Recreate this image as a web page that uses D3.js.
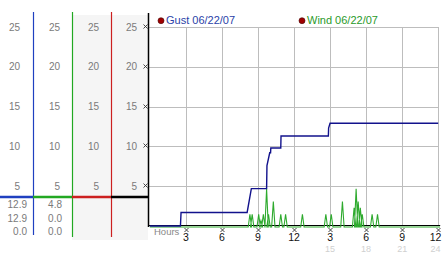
<!DOCTYPE html>
<html>
<head>
<meta charset="utf-8">
<script src="https://cdn.jsdelivr.net/npm/d3@7"></script>
<style>
  body { margin: 0; background: #fff; }
  svg text { font-family: "Liberation Sans", Arial, sans-serif; }
</style>
</head>
<body>
<div id="chart"></div>
<script>
/*
  DATA
*/
var yTicks = [5, 10, 15, 20, 25];
var hourTicks = [3, 6, 9, 12, 15, 18, 21, 24];
var hourLabels = ["3", "6", "9", "12", "3", "6", "9", "12"];
var clockLabels = ["", "", "", "", "15", "18", "21", "24"];

// gust trace (hour, mph)
var gustHours = [0, 2.55, 2.6, 8.1, 8.45, 9.72, 9.75, 9.98, 10.05, 10.07, 10.9, 10.92, 14.86, 14.88, 15.0, 24];
var gustValues = [0, 0, 1.7, 1.7, 4.7, 4.7, 7.6, 9.2, 9.2, 9.8, 9.8, 11.3, 11.3, 12.3, 12.9, 12.9];

// wind samples (hour, mph) - non zero readings only
var windHours = [8.33, 8.52, 9.06, 9.25, 9.45, 9.72, 9.88, 10.28, 10.9, 11.3, 12.7, 14.65, 15.1, 16.03, 17.0, 17.17, 17.34, 17.52, 17.68, 18.5, 18.95];
var windValues = [1.6, 1.6, 1.6, 0.8, 1.6, 4.8, 1.6, 3.2, 1.6, 1.6, 1.6, 1.6, 1.6, 3.2, 2.4, 4.8, 3.2, 2.4, 1.6, 1.6, 1.6];

var legendNames = ["Gust 06/22/07", "Wind 06/22/07"];
var gustStats = ["12.9", "12.9", "0.0"];
var windStats = ["4.8", "0.0", "0.0"];

var width = 442;
var height = 253;

var svg = d3.select("#chart")
  .append("svg")
    .attr("width", width)
    .attr("height", height);

var x = d3.scaleLinear().domain([0, 24]).range([149.8, 438.2]);
var y = d3.scaleLinear().domain([0, 25]).range([226, 27]);

/*
  LEFT PANEL
*/
svg.append("rect").attr("x", 72).attr("y", 15).attr("width", 76).attr("height", 225).attr("fill", "#f5f5f5");

var cols = [
  {line: 33, right: 20, color: "#1f40c0"},
  {line: 72, right: 60, color: "#22a822"},
  {line: 111, right: 99, color: "#cc2020"},
  {line: 148, right: 137, color: "#000"}
];

cols.forEach(function(c, i) {
  var x0 = i === 0 ? 0 : cols[i - 1].line;
  svg.append("line")
    .attr("x1", x0).attr("x2", c.line)
    .attr("y1", 197).attr("y2", 197)
    .attr("stroke", c.color).attr("stroke-width", 2.5);
  if (i < 3) {
    svg.append("line")
      .attr("x1", c.line + 0.5).attr("x2", c.line + 0.5)
      .attr("y1", 12).attr("y2", i === 0 ? 235 : 237)
      .attr("stroke", c.color).attr("stroke-width", 1.2);
  }
  svg.selectAll(null)
    .data(yTicks)
    .enter()
    .append("text")
      .attr("x", c.right)
      .attr("y", d => y(d) + 3.6)
      .attr("text-anchor", "end")
      .attr("font-size", 10)
      .attr("fill", "#7a7a7a")
      .text(d => d);
});

[gustStats, windStats].forEach(function(stats, i) {
  svg.selectAll(null)
    .data(stats)
    .enter()
    .append("text")
      .attr("x", i === 0 ? 27 : 62)
      .attr("y", (d, j) => 208.3 + j * 13.3)
      .attr("text-anchor", "end")
      .attr("font-size", 10)
      .attr("fill", "#7a7a7a")
      .text(d => d);
});

/*
  GRID
*/
svg.append("g")
  .selectAll("line")
  .data(yTicks)
  .enter()
  .append("line")
    .attr("x1", 148).attr("x2", x(24))
    .attr("y1", d => Math.round(y(d)) + 0.5).attr("y2", d => Math.round(y(d)) + 0.5)
    .attr("stroke", "#bdbdbd");

svg.append("g")
  .selectAll("line")
  .data(hourTicks)
  .enter()
  .append("line")
    .attr("x1", d => Math.round(x(d)) + 0.5).attr("x2", d => Math.round(x(d)) + 0.5)
    .attr("y1", y(25)).attr("y2", y(0))
    .attr("stroke", "#bdbdbd");

// tiny tick glyphs
var mark = "M-2,-2L2,2M2,-2L-2,2";
svg.append("g")
  .selectAll("path")
  .data(yTicks)
  .enter()
  .append("path")
    .attr("transform", d => "translate(145.5," + (Math.round(y(d)) - 0.5) + ")")
    .attr("d", mark)
    .attr("stroke", "#333").attr("fill", "none").attr("stroke-width", 0.9);

svg.append("g")
  .selectAll("path")
  .data(hourTicks)
  .enter()
  .append("path")
    .attr("transform", d => "translate(" + (Math.round(x(d)) + 0.5) + ",230)")
    .attr("d", mark)
    .attr("stroke", "#333").attr("fill", "none").attr("stroke-width", 0.9);

/*
  SERIES
*/
// axes lines
svg.append("line").attr("x1", 148.5).attr("x2", 148.5).attr("y1", 13).attr("y2", 227).attr("stroke", "#000").attr("stroke-width", 1.5);
svg.append("line").attr("x1", 148).attr("x2", x(24) + 2).attr("y1", 225.5).attr("y2", 225.5).attr("stroke", "#000");

var halfWidth = 0.14;
var windPts = [[0, 0]];
windHours.forEach(function(h, i) {
  windPts.push([h - halfWidth, 0], [h, windValues[i]], [h + halfWidth, 0]);
});
windPts.push([24.15, 0]);

var line = d3.line()
  .x(d => x(d[0]))
  .y(d => y(d[1]));

svg.append("path")
  .datum(windPts)
  .attr("transform", "translate(0,1)")
  .attr("d", line)
  .attr("fill", "none")
  .attr("stroke", "#2eaa2e")
  .attr("stroke-width", 1.1);

svg.append("path")
  .datum(gustHours.map((h, i) => [h, gustValues[i]]))
  .attr("d", line)
  .attr("fill", "none")
  .attr("stroke", "#12128c")
  .attr("stroke-width", 1.4);

/*
  LABELS
*/
svg.append("text")
  .attr("x", 154).attr("y", 235)
  .attr("font-size", 9.5)
  .attr("fill", "#888")
  .text("Hours");

svg.selectAll(null)
  .data(hourTicks)
  .enter()
  .append("text")
    .attr("x", d => Math.min(x(d), 435.5))
    .attr("y", 240.5)
    .attr("text-anchor", "middle")
    .attr("font-size", 10.5)
    .attr("fill", "#111")
    .text((d, i) => hourLabels[i]);

svg.selectAll(null)
  .data(hourTicks)
  .enter()
  .append("text")
    .attr("x", d => Math.min(x(d), 435.5))
    .attr("y", 252)
    .attr("text-anchor", "middle")
    .attr("font-size", 9)
    .attr("fill", "#d0d0d0")
    .text((d, i) => clockLabels[i]);

var legendX = [161, 302];
var legendColors = ["#2a3fa8", "#2a9a2a"];
legendNames.forEach(function(name, i) {
  svg.append("circle")
    .attr("cx", legendX[i]).attr("cy", 20.7).attr("r", 3)
    .attr("fill", "#a00000").attr("stroke", "#400").attr("stroke-width", 0.6);
  svg.append("text")
    .attr("x", legendX[i] + 5).attr("y", 24.3)
    .attr("font-size", 11)
    .attr("fill", legendColors[i])
    .text(name);
});
</script>
</body>
</html>
